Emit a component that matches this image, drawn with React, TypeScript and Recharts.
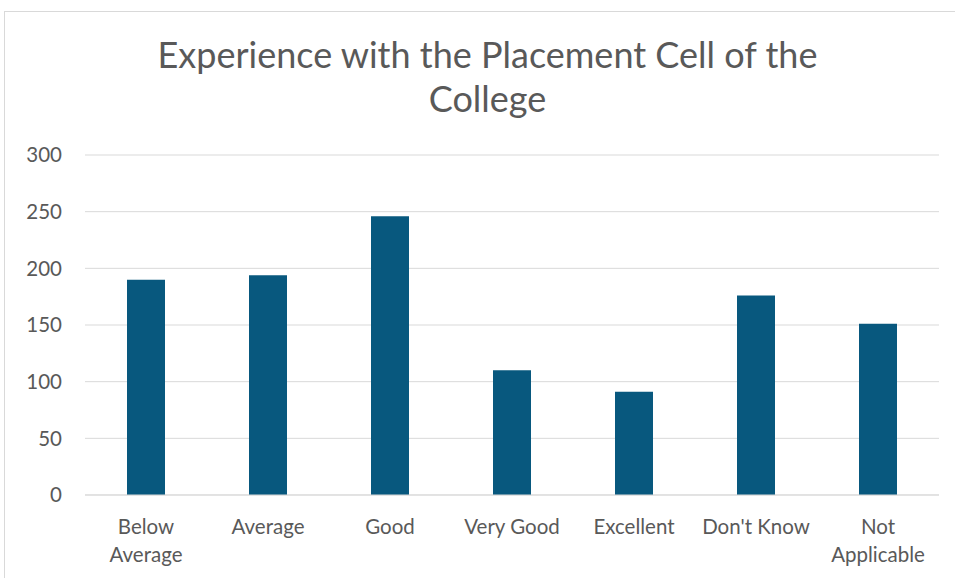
import { BarChart, Bar, XAxis, YAxis, CartesianGrid } from 'recharts';

const categories = ['Below Average', 'Average', 'Good', 'Very Good', 'Excellent', "Don't Know", 'Not Applicable'];
const counts = [190, 194, 246, 110, 91, 176, 151];
const yTicks = [0, 50, 100, 150, 200, 250, 300];
const twoLineLabels = ['Below Average', 'Not Applicable'];

const data = categories.map((c, i) => ({ name: c, value: counts[i] }));

const TEXT = '#595959';
const FONT = 'Lato, sans-serif';

function CategoryTick({ x, y, payload }: any) {
  const label: string = payload.value;
  const lines = twoLineLabels.includes(label) ? label.split(' ') : [label];
  return (
    <text x={x} y={y} textAnchor="middle" fill={TEXT} fontSize={20.5} fontFamily={FONT}>
      {lines.map((l, i) => (
        <tspan key={i} x={x} dy={i === 0 ? 31 : 28}>{l}</tspan>
      ))}
    </text>
  );
}

export default function App() {
  return (
    <div style={{ position: 'absolute', left: 0, top: 0, width: 955, height: 578, background: '#fff', overflow: 'hidden' }}>
      <div style={{ position: 'absolute', left: 4, top: 11, width: 980, height: 600, border: '1px solid #d9d9d9' }} />
      <div
        style={{
          position: 'absolute', left: 0, top: 32, width: 975, textAlign: 'center',
          fontFamily: FONT, fontSize: 36, lineHeight: '44px', color: TEXT,
        }}
      >
        Experience with the Placement Cell of the
        <br />
        College
      </div>
      <BarChart
        width={955}
        height={578}
        data={data}
        margin={{ top: 155, right: 16, left: 0, bottom: 0 }}
        barSize={38}
        style={{ position: 'absolute', left: 0, top: 0 }}
      >
        <CartesianGrid stroke="#d9d9d9" vertical={false} />
        <XAxis
          dataKey="name"
          axisLine={{ stroke: '#d9d9d9' }}
          tickLine={false}
          height={83}
          interval={0}
          tick={<CategoryTick />}
        />
        <YAxis
          domain={[0, 300]}
          ticks={yTicks}
          axisLine={false}
          tickLine={false}
          tickSize={0}
          tickMargin={23}
          width={85}
          tick={{ fontSize: 20.5, fill: TEXT, fontFamily: FONT }}
        />
        <Bar dataKey="value" fill="#08587e" isAnimationActive={false} />
      </BarChart>
    </div>
  );
}
